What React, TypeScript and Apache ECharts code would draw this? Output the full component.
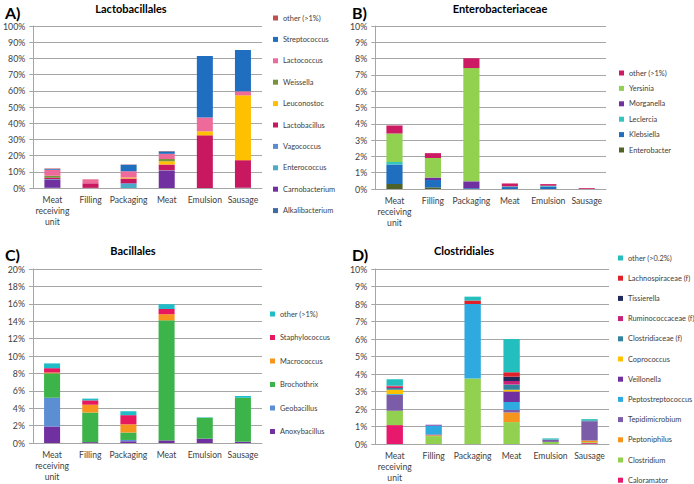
import React, { useEffect, useRef } from "react";
import * as echarts from "echarts";

const FONT = "Lato, 'Noto Sans', sans-serif";
const CATEGORIES = ["Meat\nreceiving\nunit", "Filling", "Packaging", "Meat", "Emulsion", "Sausage"];

// ---- Panel A: Lactobacillales (bottom → top), % ----
const A_NAMES = ["Alkalibacterium", "Carnobacterium", "Enterococcus", "Vagococcus", "Lactobacillus", "Leuconostoc", "Weissella", "Lactococcus", "Streptococcus", "other (>1%)"];
const A_COLORS = ["#3F6BA5", "#7030A0", "#4BACC6", "#5B8CD0", "#C8185F", "#FFC000", "#77933C", "#EE6A9B", "#1F6EBF", "#C0504D"];
const A_ALKALIBACTERIUM = [0.2, 0, 0, 0, 0, 0];
const A_CARNOBACTERIUM = [5.0, 0.1, 0, 10.5, 0, 0.2];
const A_ENTEROCOCCUS = [0, 0, 2.4, 0, 0, 0];
const A_VAGOCOCCUS = [0.3, 0, 0.5, 0.4, 0, 0];
const A_LACTOBACILLUS = [0.8, 2.8, 3.0, 3.6, 32.5, 17];
const A_LEUCONOSTOC = [0, 0, 0.6, 2.0, 2.5, 40];
const A_WEISSELLA = [1.2, 0, 0, 1.4, 0, 0];
const A_LACTOCOCCUS = [3.8, 2.4, 3.8, 3.2, 8.5, 2.5];
const A_STREPTOCOCCUS = [0.5, 0, 4.0, 1.5, 38, 25.5];
const A_OTHER = [0.3, 0.1, 0.2, 0.2, 0, 0];

// ---- Panel B: Enterobacteriaceae ----
const B_NAMES = ["Enterobacter", "Klebsiella", "Leclercia", "Morganella", "Yersinia", "other (>1%)"];
const B_COLORS = ["#4F6228", "#1F6EBF", "#33C6C0", "#7030A0", "#92D050", "#CC1A65"];
const B_ENTEROBACTER = [0.3, 0.1, 0, 0, 0, 0];
const B_KLEBSIELLA = [1.2, 0.45, 0.05, 0.12, 0.15, 0];
const B_LECLERCIA = [0.15, 0, 0, 0.04, 0.05, 0];
const B_MORGANELLA = [0, 0.15, 0.42, 0, 0, 0];
const B_YERSINIA = [1.75, 1.2, 6.95, 0, 0, 0];
const B_OTHER = [0.5, 0.3, 0.6, 0.18, 0.1, 0.05];

// ---- Panel C: Bacillales ----
const C_NAMES = ["Anoxybacillus", "Geobacillus", "Brochothrix", "Macrococcus", "Staphylococcus", "other (>1%)"];
const C_COLORS = ["#7030A0", "#5B8ED3", "#3CB44A", "#F7941D", "#E8185E", "#20BCC8"];
const C_ANOXYBACILLUS = [1.9, 0.1, 0.2, 0.3, 0.5, 0.15];
const C_GEOBACILLUS = [3.3, 0, 0.15, 0, 0, 0];
const C_BROCHOTHRIX = [2.8, 3.4, 0.85, 13.8, 2.4, 5.05];
const C_MACROCOCCUS = [0.1, 0.9, 0.95, 0.7, 0, 0];
const C_STAPHYLOCOCCUS = [0.5, 0.5, 1.05, 0.6, 0, 0];
const C_OTHER = [0.55, 0.2, 0.45, 0.55, 0.05, 0.2];

// ---- Panel D: Clostridiales ----
const D_NAMES = ["Caloramator", "Clostridium", "Peptoniphilus", "Tepidimicrobium", "Peptostreptococcus", "Veillonella", "Coprococcus", "Clostridiaceae (f)", "Ruminococcaceae (f)", "Tissierella", "Lachnospiraceae (f)", "other (>0.2%)"];
const D_COLORS = ["#E8186C", "#92D050", "#F7941D", "#7B5CA8", "#2EAAE1", "#7030A0", "#FFC000", "#31849B", "#C8217A", "#1F2A5A", "#E0202A", "#23BFBF"];
const D_CALORAMATOR = [1.08, 0, 0, 0, 0, 0.05];
const D_CLOSTRIDIUM = [0.82, 0.45, 3.75, 1.25, 0.12, 0.05];
const D_PEPTONIPHILUS = [0, 0.05, 0, 0.55, 0, 0.1];
const D_TEPIDIMICROBIUM = [0.9, 0.05, 0, 0.15, 0.12, 1.1];
const D_PEPTOSTREPTOCOCCUS = [0.05, 0.5, 4.25, 0.45, 0, 0];
const D_VEILLONELLA = [0, 0.05, 0, 0.6, 0, 0];
const D_COPROCOCCUS = [0.25, 0, 0, 0.1, 0, 0];
const D_CLOSTRIDIACEAE = [0.1, 0, 0, 0.3, 0.02, 0.05];
const D_RUMINOCOCCACEAE = [0.08, 0, 0, 0.2, 0, 0];
const D_TISSIERELLA = [0, 0, 0, 0.25, 0, 0];
const D_LACHNOSPIRACEAE = [0.05, 0, 0.2, 0.25, 0, 0];
const D_OTHER = [0.37, 0, 0.22, 1.9, 0.06, 0.07];

const AXIS_COLOR = "#A6A6A6";
const TEXT_COLOR = "#404040";

type PanelCfg = {
  letter: string;
  title: string;
  titleX: number;
  names: string[];
  colors: string[];
  values: number[][];
  max: number;
  interval: number;
  grid: { left: number; right: number; top: number; bottom: number };
  legend: { left: number; top: number; itemGap: number };
};

const PANELS: PanelCfg[] = [
  {
    letter: "A)", title: "Lactobacillales", titleX: 131,
    names: A_NAMES, colors: A_COLORS,
    values: [A_ALKALIBACTERIUM, A_CARNOBACTERIUM, A_ENTEROCOCCUS, A_VAGOCOCCUS, A_LACTOBACILLUS, A_LEUCONOSTOC, A_WEISSELLA, A_LACTOCOCCUS, A_STREPTOCOCCUS, A_OTHER],
    max: 100, interval: 10,
    grid: { left: 32, right: 85, top: 26, bottom: 54 },
    legend: { left: 273, top: 13, itemGap: 11.4 },
  },
  {
    letter: "B)", title: "Enterobacteriaceae", titleX: 153,
    names: B_NAMES, colors: B_COLORS,
    values: [B_ENTEROBACTER, B_KLEBSIELLA, B_LECLERCIA, B_MORGANELLA, B_YERSINIA, B_OTHER],
    max: 10, interval: 1,
    grid: { left: 27, right: 88, top: 26, bottom: 53 },
    legend: { left: 272, top: 68, itemGap: 5.4 },
  },
  {
    letter: "C)", title: "Bacillales", titleX: 133,
    names: C_NAMES, colors: C_COLORS,
    values: [C_ANOXYBACILLUS, C_GEOBACILLUS, C_BROCHOTHRIX, C_MACROCOCCUS, C_STAPHYLOCOCCUS, C_OTHER],
    max: 20, interval: 2,
    grid: { left: 33, right: 85, top: 27, bottom: 41 },
    legend: { left: 270, top: 67, itemGap: 13.5 },
  },
  {
    letter: "D)", title: "Clostridiales", titleX: 117,
    names: D_NAMES, colors: D_COLORS,
    values: [D_CALORAMATOR, D_CLOSTRIDIUM, D_PEPTONIPHILUS, D_TEPIDIMICROBIUM, D_PEPTOSTREPTOCOCCUS, D_VEILLONELLA, D_COPROCOCCUS, D_CLOSTRIDIACEAE, D_RUMINOCOCCACEAE, D_TISSIERELLA, D_LACHNOSPIRACEAE, D_OTHER],
    max: 10, interval: 1,
    grid: { left: 27, right: 85, top: 27, bottom: 40 },
    legend: { left: 271, top: 11, itemGap: 10.2 },
  },
];

function makeOption(p: PanelCfg) {
  return {
    animation: false,
    textStyle: { fontFamily: FONT },
    graphic: [
      { type: "text", x: 5, y: 12, style: { text: p.letter, font: `bold 16px ${FONT}`, fill: "#000", textVerticalAlign: "middle" } },
      { type: "text", x: p.titleX, y: 8, style: { text: p.title, font: `bold 11px ${FONT}`, fill: "#000", textAlign: "center", textVerticalAlign: "middle" } },
    ],
    grid: p.grid,
    legend: {
      orient: "vertical",
      left: p.legend.left,
      top: p.legend.top,
      padding: 0,
      height: 300,
      itemGap: p.legend.itemGap,
      itemWidth: 5,
      itemHeight: 5,
      icon: "rect",
      selectedMode: false,
      data: p.names.map((n, i) => ({ name: n, itemStyle: { color: p.colors[i] } })).reverse(),
      textStyle: { fontSize: 7.4, lineHeight: 10, color: TEXT_COLOR, fontFamily: FONT },
    },
    xAxis: {
      type: "category",
      data: CATEGORIES,
      axisLine: { lineStyle: { color: AXIS_COLOR } },
      axisTick: { length: 4, lineStyle: { color: AXIS_COLOR } },
      axisLabel: { interval: 0, fontSize: 8.6, lineHeight: 11, color: TEXT_COLOR, margin: 6, fontFamily: FONT },
    },
    yAxis: {
      type: "value",
      min: 0,
      max: p.max,
      interval: p.interval,
      axisLine: { show: true, lineStyle: { color: AXIS_COLOR } },
      axisTick: { show: true, length: 4, lineStyle: { color: AXIS_COLOR } },
      splitLine: { lineStyle: { color: AXIS_COLOR } },
      axisLabel: { formatter: "{value}%", fontSize: 8.8, color: TEXT_COLOR, margin: 8, fontFamily: FONT },
    },
    series: p.names.map((n, i) => ({
      type: "bar",
      name: n,
      stack: "total",
      barWidth: "42%",
      data: p.values[i],
      itemStyle: { color: p.colors[i] },
    })),
  };
}

function Panel({ cfg, x, y }: { cfg: PanelCfg; x: number; y: number }) {
  const ref = useRef<HTMLDivElement>(null);
  useEffect(() => {
    if (!ref.current) return;
    const chart = echarts.init(ref.current, undefined, { renderer: "svg" });
    chart.setOption(makeOption(cfg) as any);
    return () => chart.dispose();
  }, [cfg]);
  return <div ref={ref} style={{ position: "absolute", left: x, top: y, width: 347, height: 242 }} />;
}

export default function App() {
  return (
    <div style={{ position: "absolute", left: 0, top: 0, width: 694, height: 484, background: "#fff", overflow: "hidden" }}>
      <Panel cfg={PANELS[0]} x={0} y={0} />
      <Panel cfg={PANELS[1]} x={347} y={0} />
      <Panel cfg={PANELS[2]} x={0} y={242} />
      <Panel cfg={PANELS[3]} x={347} y={242} />
    </div>
  );
}
